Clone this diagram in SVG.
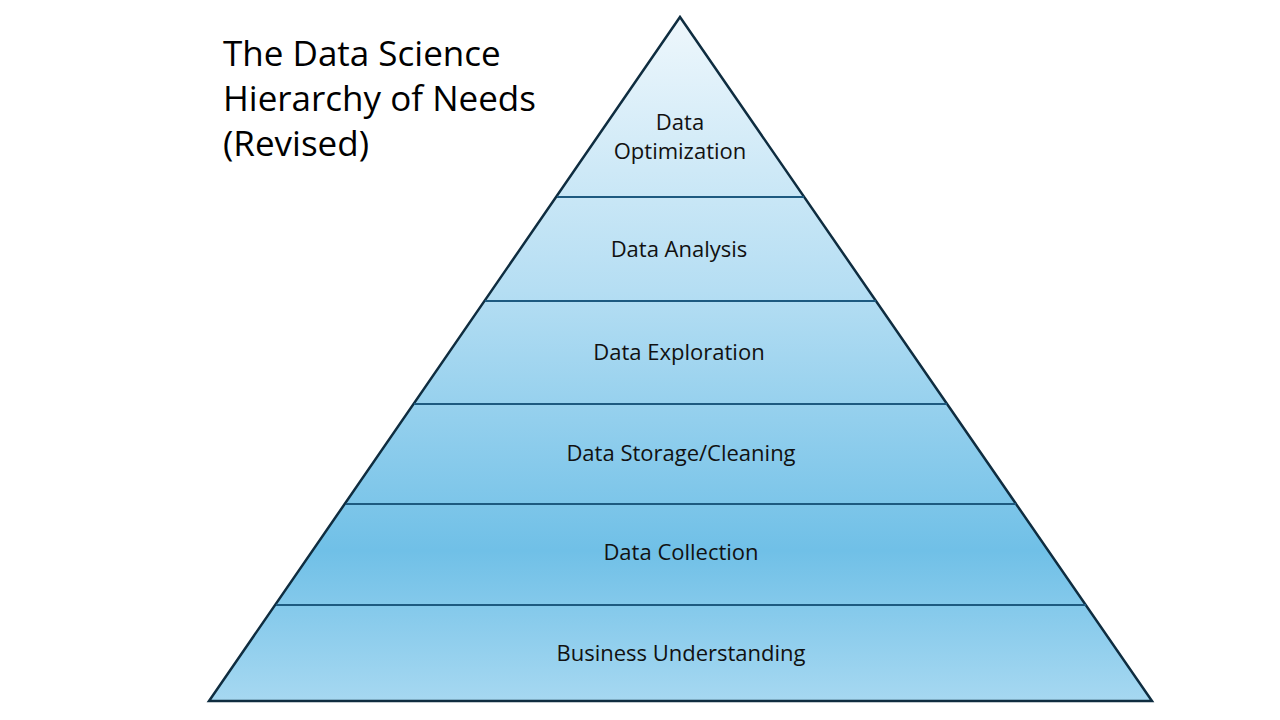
<svg xmlns="http://www.w3.org/2000/svg" width="1280" height="720" viewBox="0 0 1280 720">
  <defs>
    <linearGradient id="pyr" gradientUnits="userSpaceOnUse" x1="0" y1="17" x2="0" y2="701">
      <stop offset="0" stop-color="#eef7fc"/>
      <stop offset="0.4" stop-color="#b5def3"/>
      <stop offset="0.78" stop-color="#70c0e7"/>
      <stop offset="1" stop-color="#a6d8f1"/>
    </linearGradient>
    <style>
      .lbl { font-family: "Open Sans", "Liberation Sans", sans-serif; font-size: 22px; fill: #111; text-anchor: middle; }
      .title { font-family: "Open Sans", "Liberation Sans", sans-serif; font-size: 35px; fill: #000; }
      .div { stroke: #1d5a80; stroke-width: 2; fill: none; }
    </style>
  </defs>
  <rect width="1280" height="720" fill="#fff"/>
  <g id="title">
    <text class="title" x="223" y="66">The Data Science</text>
    <text class="title" x="223" y="111">Hierarchy of Needs</text>
    <text class="title" x="223" y="156">(Revised)</text>
  </g>
  <g id="pyramid">
    <polygon points="680,17 1152,701 209,701" fill="url(#pyr)" stroke="#0f2d40" stroke-width="2.5" stroke-linejoin="miter"/>
  </g>
  <g id="connectors">
    <line class="div" x1="557" y1="197" x2="804" y2="197"/>
    <line class="div" x1="485" y1="301" x2="876" y2="301"/>
    <line class="div" x1="414" y1="404" x2="947" y2="404"/>
    <line class="div" x1="346" y1="504" x2="1016" y2="504"/>
    <line class="div" x1="276" y1="605" x2="1086" y2="605"/>
  </g>
  <g id="node-optimization">
    <text class="lbl" x="680" y="130">Data</text>
    <text class="lbl" x="680" y="159">Optimization</text>
  </g>
  <g id="node-analysis"><text class="lbl" x="679" y="257">Data Analysis</text></g>
  <g id="node-exploration"><text class="lbl" x="679" y="360">Data Exploration</text></g>
  <g id="node-storage"><text class="lbl" x="681" y="461">Data Storage/Cleaning</text></g>
  <g id="node-collection"><text class="lbl" x="681" y="560">Data Collection</text></g>
  <g id="node-business"><text class="lbl" x="681" y="661">Business Understanding</text></g>
</svg>
